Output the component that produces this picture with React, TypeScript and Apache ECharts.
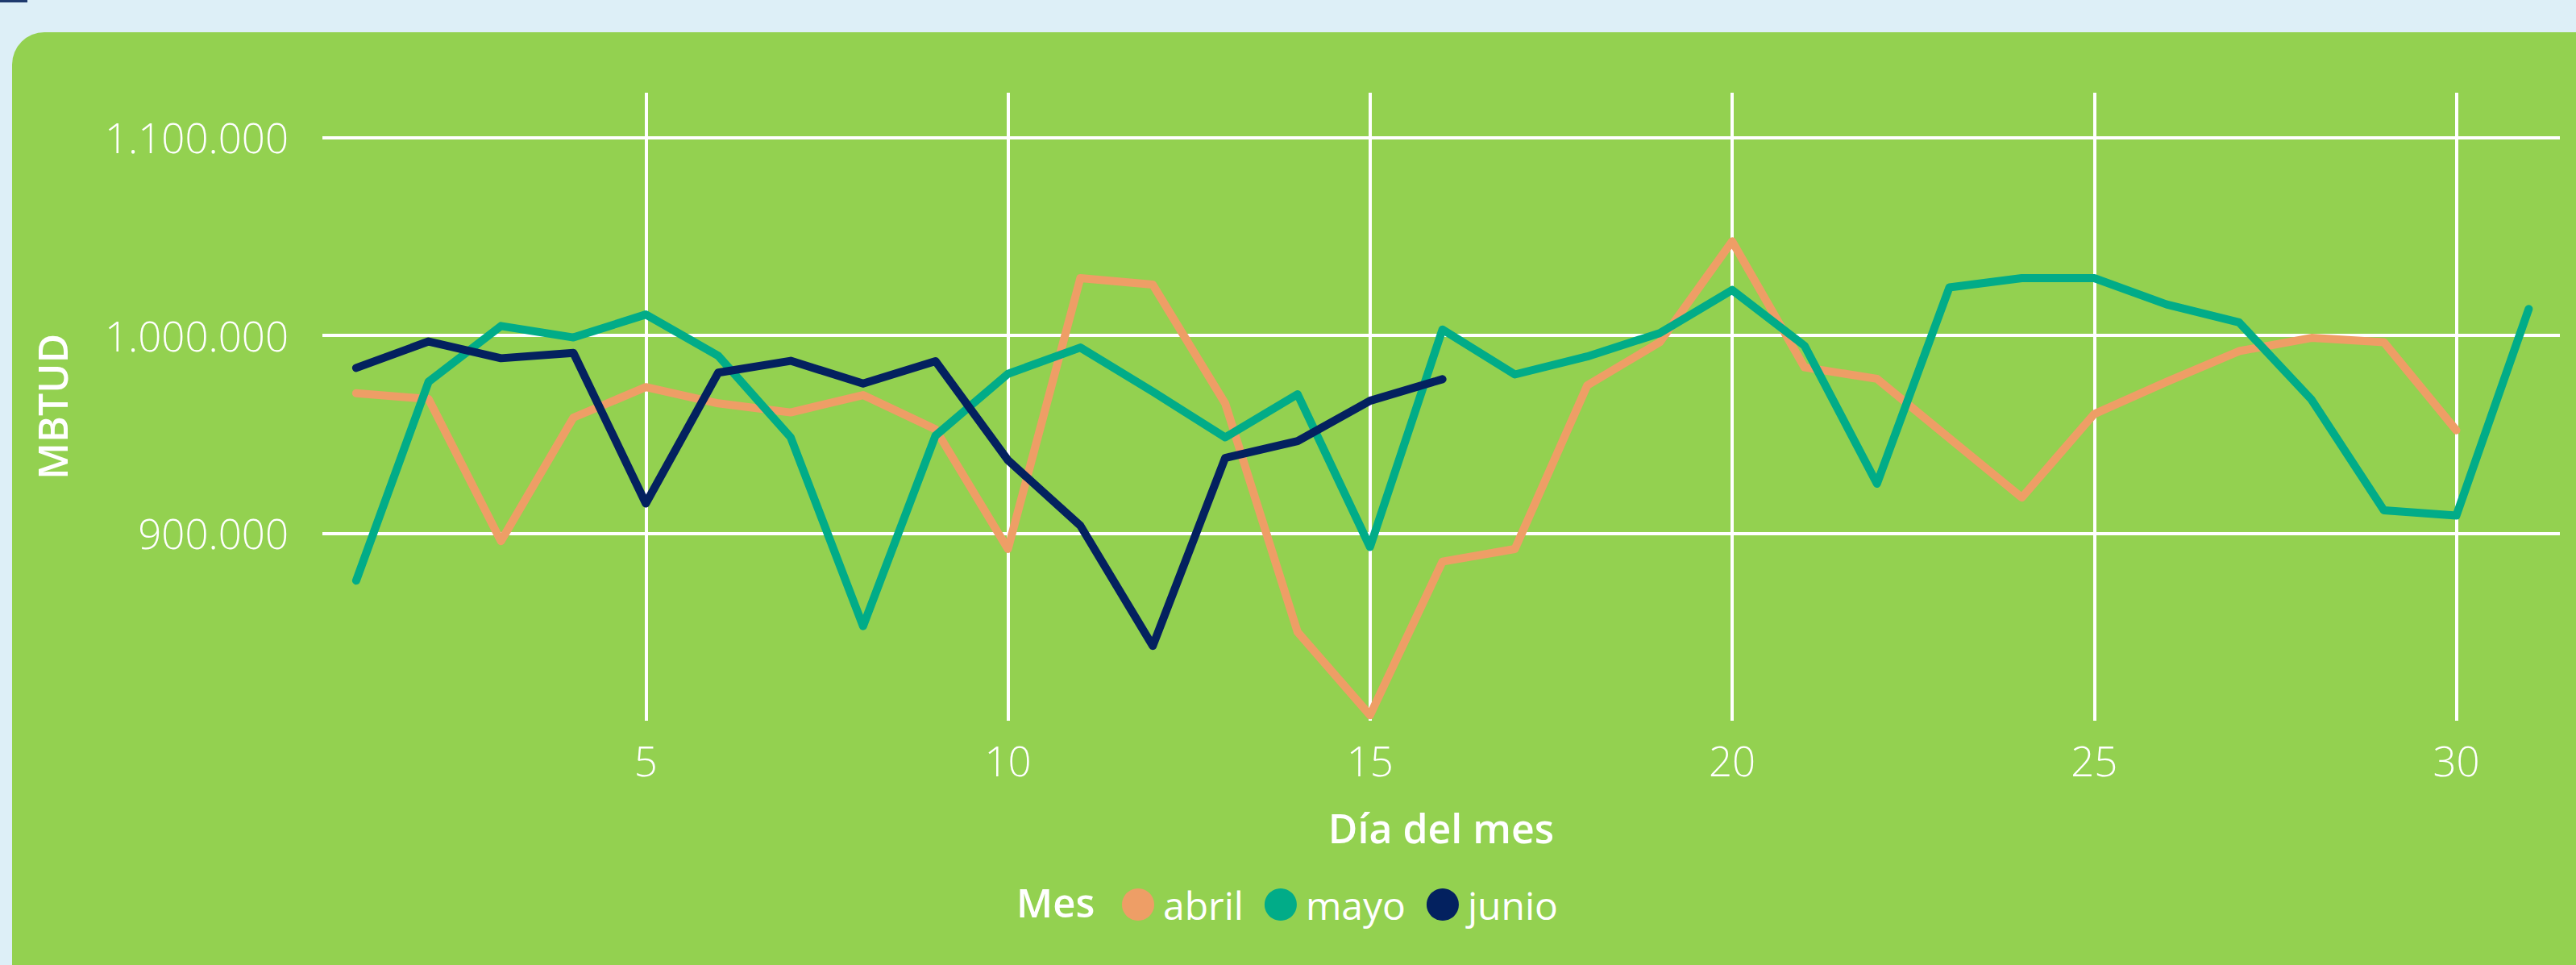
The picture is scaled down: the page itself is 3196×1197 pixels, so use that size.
import React, { useEffect, useRef } from 'react';
import * as echarts from 'echarts';

const seriesNames = ['abril', 'mayo', 'junio'];
const seriesColors = ['#EE9E66', '#01AC88', '#03215F'];

const abril = [
  970700, 967800, 896000, 958400, 973800, 965600, 961000, 969800, 952500, 892000,
  1028900, 1025600, 965600, 850000, 808000, 885600, 892000, 974700, 996500, 1047500,
  983800, 978000, 948000, 918000, 960200, 976500, 992000, 998700, 996500, 952000,
];
const mayo = [
  876000, 976500, 1004700, 998900, 1010500, 989600, 948400, 853000, 949300, 980500,
  993800, 971500, 948400, 970200, 893000, 1002900, 980200, 989300, 1001100, 1022900,
  994700, 925000, 1024200, 1028900, 1028900, 1015600, 1006500, 967500, 911500, 908900,
  1013300,
];
const junio = [
  983500, 996900, 988400, 991100, 915000, 981100, 987100, 975600, 986900, 936900,
  903800, 843000, 938000, 946500, 966900, 977800,
];

const xTicks = [5, 10, 15, 20, 25, 30];
const yTicks = [900000, 1000000, 1100000];

const FONT = "'Segoe UI', 'Open Sans', 'Noto Sans', sans-serif";

const fmt = (v: number) => String(Math.round(v)).replace(/\B(?=(\d{3})+(?!\d))/g, '.');

export default function App() {
  const ref = useRef<HTMLDivElement>(null);
  useEffect(() => {
    if (!ref.current) return;
    const chart = echarts.init(ref.current, null, { renderer: 'svg' });
    const allData = [abril, mayo, junio];
    chart.setOption({
      animation: false,
      textStyle: { fontFamily: FONT },
      title: {
        text: 'Mes',
        left: 1261,
        top: 1094,
        padding: 0,
        textStyle: { color: '#fff', fontSize: 49, fontWeight: 600, fontFamily: FONT },
      },
      legend: {
        data: seriesNames,
        left: 1392,
        top: 1098,
        padding: 0,
        icon: 'circle',
        itemWidth: 40,
        itemHeight: 40,
        itemGap: 26,
        textStyle: { color: '#fff', fontSize: 48, fontFamily: FONT, padding: [0, 0, 0, 6] },
      },
      grid: { left: 400, right: 20, top: 115, bottom: 303, containLabel: false },
      xAxis: {
        type: 'value',
        min: 0.534,
        max: 31.43,
        name: 'Día del mes',
        nameLocation: 'middle',
        nameGap: 108,
        nameTextStyle: { color: '#fff', fontSize: 50, fontWeight: 600, fontFamily: FONT },
        axisLine: { show: false },
        axisTick: { show: false, customValues: xTicks },
        axisLabel: {
          customValues: xTicks,
          color: '#fff',
          fontSize: 51,
          fontWeight: 300,
          fontFamily: FONT,
          margin: 23,
        },
        splitLine: { show: true, lineStyle: { color: '#ffffff', width: 4 } },
      },
      yAxis: {
        type: 'value',
        min: 805200,
        max: 1122600,
        name: 'MBTUD',
        nameLocation: 'middle',
        nameGap: 310,
        nameRotate: 90,
        nameTextStyle: { color: '#fff', fontSize: 50, fontWeight: 600, fontFamily: FONT },
        axisLine: { show: false },
        axisTick: { show: false, customValues: yTicks },
        axisLabel: {
          customValues: yTicks,
          color: '#fff',
          fontSize: 51,
          fontWeight: 300,
          fontFamily: FONT,
          margin: 42,
          formatter: (v: number) => fmt(v),
        },
        splitLine: { show: true, lineStyle: { color: '#ffffff', width: 4 } },
      },
      series: seriesNames.map((name, i) => ({
        name,
        type: 'line',
        data: allData[i].map((v, j) => [j + 1, v]),
        showSymbol: false,
        symbol: 'circle',
        color: seriesColors[i],
        lineStyle: { width: 10, color: seriesColors[i], cap: 'round', join: 'round' },
      })),
    });
    return () => chart.dispose();
  }, []);
  return (
    <div style={{ position: 'fixed', left: 0, top: 0, width: 3196, height: 1197, background: '#DDEFF7', overflow: 'hidden' }}>
      <div style={{ position: 'absolute', left: 0, top: 0, width: 34, height: 3, background: '#1F3A6E' }} />
      <div style={{ position: 'absolute', left: 15, top: 40, width: 3240, height: 1260, background: '#93D150', borderRadius: 40 }} />
      <div ref={ref} style={{ position: 'absolute', left: 0, top: 0, width: 3196, height: 1197 }} />
    </div>
  );
}
